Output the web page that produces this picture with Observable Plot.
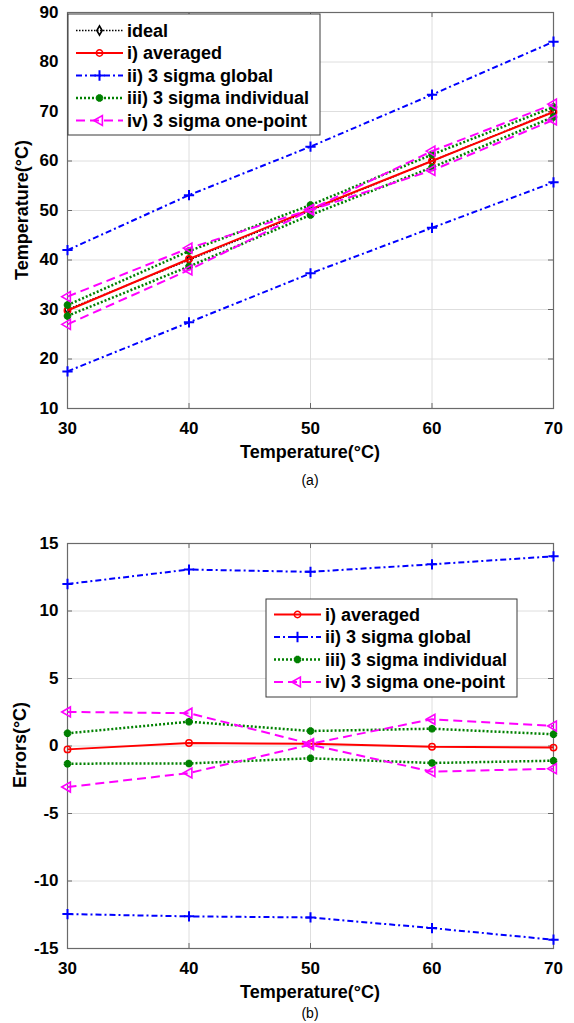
<!DOCTYPE html>
<html>
<head>
<meta charset="utf-8">
<script src="https://cdn.jsdelivr.net/npm/d3@7"></script>
<script src="https://cdn.jsdelivr.net/npm/@observablehq/plot@0.6"></script>
<style>
  html, body { margin: 0; padding: 0; background: #fff; }
  body { width: 574px; height: 1023px; position: relative; overflow: hidden;
         font-family: "Liberation Sans", Arial, Helvetica, sans-serif; }
  .abs { position: absolute; }
  .xtitle { font-weight: bold; font-size: 18px; width: 486px; text-align: center; left: 67px; line-height: 1; }
  .ytitle { font-weight: bold; font-size: 18px; white-space: nowrap; line-height: 1;
            transform: translate(-50%, -50%) rotate(-90deg); }
  .cap { font-size: 14px; width: 486px; left: 67px; text-align: center; line-height: 1; }
</style>
</head>
<body>
<div id="plotA" class="abs" style="left:0;top:0"></div>
<div id="plotB" class="abs" style="left:0;top:530px"></div>
<div id="legA" class="abs" style="left:0;top:0"></div>
<div id="legB" class="abs" style="left:0;top:0"></div>
<div class="abs xtitle" style="top:443px">Temperature(°C)</div>
<div class="abs cap" style="top:473px">(a)</div>
<div class="abs ytitle" style="left:22px;top:210px">Temperature(°C)</div>
<div class="abs xtitle" style="top:983px">Temperature(°C)</div>
<div class="abs cap" style="top:1006px">(b)</div>
<div class="abs ytitle" style="left:20px;top:745px">Errors(°C)</div>
<script>
// ---------- data ----------
const temps = [30, 40, 50, 60, 70];
const xTicks = [30, 40, 50, 60, 70];
const yTicksA = [10, 20, 30, 40, 50, 60, 70, 80, 90];
const yTicksB = [-15, -10, -5, 0, 5, 10, 15];

// (a) measured temperatures
const idealA    = [30, 40, 50, 60, 70];
const avgA      = [29.8, 40.2, 50.2, 60.0, 69.9];
const globalHiA = [42.0, 53.1, 62.9, 73.4, 84.1];
const globalLoA = [17.5, 27.4, 37.3, 46.5, 55.7];
const indivHiA  = [30.9, 41.8, 51.1, 61.3, 70.9];
const indivLoA  = [28.7, 38.7, 49.1, 58.7, 68.9];
const oneHiA    = [32.6, 42.4, 50.2, 62.0, 71.5];
const oneLoA    = [27.0, 38.0, 50.1, 58.1, 68.3];

// (b) errors
const avgErr      = [-0.25, 0.22, 0.17, -0.05, -0.12];
const globalHiErr = [12.0, 13.07, 12.9, 13.46, 14.05];
const globalLoErr = [-12.45, -12.62, -12.7, -13.49, -14.35];
const indivHiErr  = [0.94, 1.8, 1.11, 1.28, 0.87];
const indivLoErr  = [-1.31, -1.29, -0.91, -1.26, -1.09];
const oneHiErr    = [2.52, 2.43, 0.17, 1.98, 1.48];
const oneLoErr    = [-3.04, -2.0, 0.1, -1.9, -1.68];

const labels = ["ideal", "i) averaged", "ii) 3 sigma global", "iii) 3 sigma individual", "iv) 3 sigma one-point"];

// ---------- styles ----------
const ST = {
  ideal:  {color: "#000000", width: 1.5, dash: "1.5,1.5", symbol: "diamond",  fill: "none", r: 2.8, mw: 1.6, rotate: 0},
  avg:    {color: "#ff0000", width: 2,   dash: null,      symbol: "circle",   fill: "none", r: 3.2, mw: 1.5, rotate: 0},
  global: {color: "#0000ff", width: 2,   dash: "6,3,2,3", symbol: "plus",     fill: "none", r: 3.4, mw: 2,   rotate: 0},
  indiv:  {color: "#008000", width: 2.5, dash: "2,2",     symbol: "asterisk", fill: "none", r: 3.5, mw: 3.2, rotate: 0},
  one:    {color: "#ff00ff", width: 2,   dash: "9,5",     symbol: "triangle", fill: "none", r: 3.7, mw: 1.6, rotate: -90}
};

function seriesMarks(xs, ys, st) {
  const data = xs.map((x, i) => ({x, y: ys[i]}));
  return [
    Plot.line(data, {x: "x", y: "y", stroke: st.color, strokeWidth: st.width,
      strokeDasharray: st.dash ?? undefined, strokeLinecap: "butt", strokeLinejoin: "miter"}),
    Plot.dot(data, {x: "x", y: "y", symbol: st.symbol, stroke: st.color, fill: st.fill,
      r: st.r, strokeWidth: st.mw, rotate: st.rotate})
  ];
}

const FONT = '"Liberation Sans", Arial, Helvetica, sans-serif';
const W = 574, ML = 67, MR = 21;

function makePlot({height, mt, mb, yDomain, yTicks, series}) {
  const fh = height - mt - mb;
  const fw = W - ML - MR;
  return Plot.plot({
    width: W, height,
    marginLeft: ML, marginRight: MR, marginTop: mt, marginBottom: mb,
    style: {fontFamily: FONT, fontSize: "17px", fontWeight: "bold", color: "#000", background: "white", overflow: "visible"},
    x: {domain: [30, 70]},
    y: {domain: yDomain},
    marks: [
      Plot.gridX(xTicks, {stroke: "#dedede", strokeOpacity: 1, strokeWidth: 1}),
      Plot.gridY(yTicks, {stroke: "#dedede", strokeOpacity: 1, strokeWidth: 1}),
      Plot.ruleX(xTicks, {x: d => d, insetTop: fh - 5, stroke: "#666"}),
      Plot.ruleX(xTicks, {x: d => d, insetBottom: fh - 5, stroke: "#666"}),
      Plot.ruleY(yTicks, {y: d => d, insetRight: fw - 5, stroke: "#666"}),
      Plot.ruleY(yTicks, {y: d => d, insetLeft: fw - 5, stroke: "#666"}),
      Plot.frame({stroke: "#6a6a6a", strokeWidth: 1.2}),
      Plot.axisX(xTicks, {tickSize: 0, tickPadding: 13, label: null, tickFormat: d => String(d)}),
      Plot.axisY(yTicks, {tickSize: 0, tickPadding: 9, label: null, tickFormat: d => String(d)}),
      ...series.flatMap(([ys, st]) => seriesMarks(temps, ys, st))
    ]
  });
}

document.getElementById("plotA").append(makePlot({
  height: 438, mt: 12, mb: 30, yDomain: [10, 90], yTicks: yTicksA,
  series: [
    [idealA, ST.ideal],
    [avgA, ST.avg],
    [globalHiA, ST.global], [globalLoA, ST.global],
    [indivHiA, ST.indiv], [indivLoA, ST.indiv],
    [oneHiA, ST.one], [oneLoA, ST.one]
  ]
}));

document.getElementById("plotB").append(makePlot({
  height: 448, mt: 13, mb: 30, yDomain: [-15, 15], yTicks: yTicksB,
  series: [
    [avgErr, ST.avg],
    [globalHiErr, ST.global], [globalLoErr, ST.global],
    [indivHiErr, ST.indiv], [indivLoErr, ST.indiv],
    [oneHiErr, ST.one], [oneLoErr, ST.one]
  ]
}));

// ---------- legends (HTML overlay svg) ----------
const symMap = {circle: d3.symbolCircle, diamond: d3.symbolDiamond, plus: d3.symbolPlus,
                triangle: d3.symbolTriangle, asterisk: d3.symbolAsterisk};

function legend(container, {left, top, w, h, rowY0, rowStep, entries}) {
  const svg = d3.select(container).append("svg")
    .attr("width", W).attr("height", 1023)
    .style("position", "absolute").style("left", "0px").style("top", "0px")
    .style("overflow", "visible");
  svg.append("rect").attr("x", left).attr("y", top).attr("width", w).attr("height", h)
    .attr("fill", "white").attr("stroke", "#3a3a3a").attr("stroke-width", 1);
  entries.forEach(([label, st], i) => {
    const y = rowY0 + i * rowStep;
    const x0 = left + 8, x1 = left + 55, xm = (x0 + x1) / 2;
    svg.append("line").attr("x1", x0).attr("x2", x1).attr("y1", y).attr("y2", y)
      .attr("stroke", st.color).attr("stroke-width", st.width)
      .attr("stroke-dasharray", st.dash);
    svg.append("path")
      .attr("d", d3.symbol(symMap[st.symbol], Math.PI * st.r * st.r)())
      .attr("transform", `translate(${xm},${y}) rotate(${st.rotate})`)
      .attr("fill", st.fill).attr("stroke", st.color).attr("stroke-width", st.mw);
    svg.append("text").attr("x", left + 59).attr("y", y).attr("dy", "0.35em")
      .style("font-family", FONT).style("font-weight", "bold").style("font-size", "18px")
      .attr("fill", "#000").text(label);
  });
}

legend(document.getElementById("legA"), {
  left: 68, top: 14, w: 252, h: 121, rowY0: 30.5, rowStep: 22.5,
  entries: [[labels[0], ST.ideal], [labels[1], ST.avg], [labels[2], ST.global], [labels[3], ST.indiv], [labels[4], ST.one]]
});
legend(document.getElementById("legB"), {
  left: 266, top: 599, w: 251, h: 98, rowY0: 614.5, rowStep: 22.5,
  entries: [[labels[1], ST.avg], [labels[2], ST.global], [labels[3], ST.indiv], [labels[4], ST.one]]
});
</script>
</body>
</html>
